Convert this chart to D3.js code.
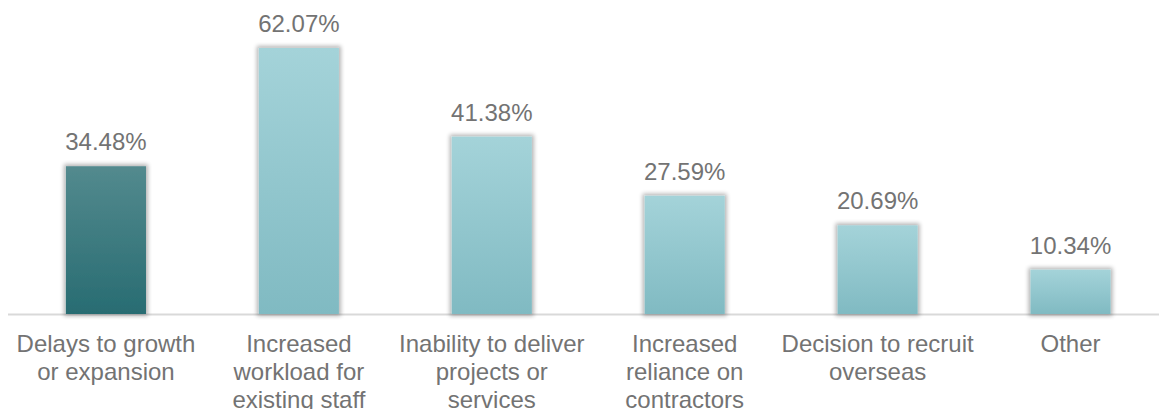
<!DOCTYPE html>
<html>
<head>
<meta charset="utf-8">
<script src="https://cdn.jsdelivr.net/npm/d3@7/dist/d3.min.js"></script>
<style>
  html, body { margin: 0; padding: 0; background: #ffffff; }
  svg { display: block; }
</style>
</head>
<body>
<svg id="chart" width="1159" height="409"></svg>
<script>
// Consequences of hard-to-fill vacancies (% of respondents)
const categories = [
  ["Delays to growth", "or expansion"],
  ["Increased", "workload for", "existing staff"],
  ["Inability to deliver", "projects or", "services"],
  ["Increased", "reliance on", "contractors"],
  ["Decision to recruit", "overseas"],
  ["Other"]
];
const values = [34.48, 62.07, 41.38, 27.59, 20.69, 10.34];
const highlighted = [true, false, false, false, false, false];

const width = 1159, height = 409;
const svg = d3.select("#chart");
const font = "Liberation Sans, Arial, sans-serif";
const textColor = "#737373";

const x = d3.scaleBand()
  .domain(d3.range(values.length))
  .range([9.5, 1167])
  .paddingInner(0.585)
  .paddingOuter(0.2925);

const y = d3.scaleLinear().domain([0, 70]).range([314, 14]);

const defs = svg.append("defs");

const gDark = defs.append("linearGradient").attr("id", "gradDark")
  .attr("x1", 0).attr("y1", 0).attr("x2", 0).attr("y2", 1);
gDark.append("stop").attr("offset", "0%").attr("stop-color", "#538a8e");
gDark.append("stop").attr("offset", "100%").attr("stop-color", "#286c72");

const gLight = defs.append("linearGradient").attr("id", "gradLight")
  .attr("x1", 0).attr("y1", 0).attr("x2", 0).attr("y2", 1);
gLight.append("stop").attr("offset", "0%").attr("stop-color", "#a4d3d9");
gLight.append("stop").attr("offset", "100%").attr("stop-color", "#80bac2");

// soft grey halo around each bar
const shadow = defs.append("filter").attr("id", "barShadow")
  .attr("x", "-20%").attr("y", "-20%").attr("width", "140%").attr("height", "140%");
shadow.append("feMorphology").attr("in", "SourceAlpha").attr("operator", "dilate")
  .attr("radius", 1.5).attr("result", "grown");
shadow.append("feGaussianBlur").attr("in", "grown").attr("stdDeviation", 2).attr("result", "blur");
shadow.append("feComponentTransfer").attr("in", "blur").attr("result", "soft")
  .append("feFuncA").attr("type", "linear").attr("slope", 0.3);
const merge = shadow.append("feMerge");
merge.append("feMergeNode").attr("in", "soft");
merge.append("feMergeNode").attr("in", "SourceGraphic");

// baseline
svg.append("line")
  .attr("x1", 8).attr("x2", width)
  .attr("y1", y(0) + 0.5).attr("y2", y(0) + 0.5)
  .attr("stroke", "#d9d9d9").attr("stroke-width", 2);

// bars
svg.append("g").selectAll("rect")
  .data(values)
  .join("rect")
  .attr("x", (d, i) => x(i))
  .attr("y", d => y(d))
  .attr("width", x.bandwidth())
  .attr("height", d => y(0) - y(d))
  .attr("fill", (d, i) => highlighted[i] ? "url(#gradDark)" : "url(#gradLight)")
  .attr("filter", "url(#barShadow)");

// value labels
svg.append("g").selectAll("text")
  .data(values)
  .join("text")
  .attr("x", (d, i) => x(i) + x.bandwidth() / 2)
  .attr("y", d => y(d) - 16)
  .attr("text-anchor", "middle")
  .attr("font-family", font)
  .attr("font-size", 24)
  .attr("fill", textColor)
  .text(d => d.toFixed(2) + "%");

// category labels
const cat = svg.append("g").selectAll("text")
  .data(categories)
  .join("text")
  .attr("x", (d, i) => x(i) + x.bandwidth() / 2)
  .attr("y", 352)
  .attr("text-anchor", "middle")
  .attr("font-family", font)
  .attr("font-size", 24)
  .attr("fill", textColor);
cat.selectAll("tspan")
  .data((d, i) => d.map(t => ({ t, i })))
  .join("tspan")
  .attr("x", d => x(d.i) + x.bandwidth() / 2)
  .attr("dy", (d, j) => j === 0 ? 0 : 28)
  .text(d => d.t);
</script>
</body>
</html>
